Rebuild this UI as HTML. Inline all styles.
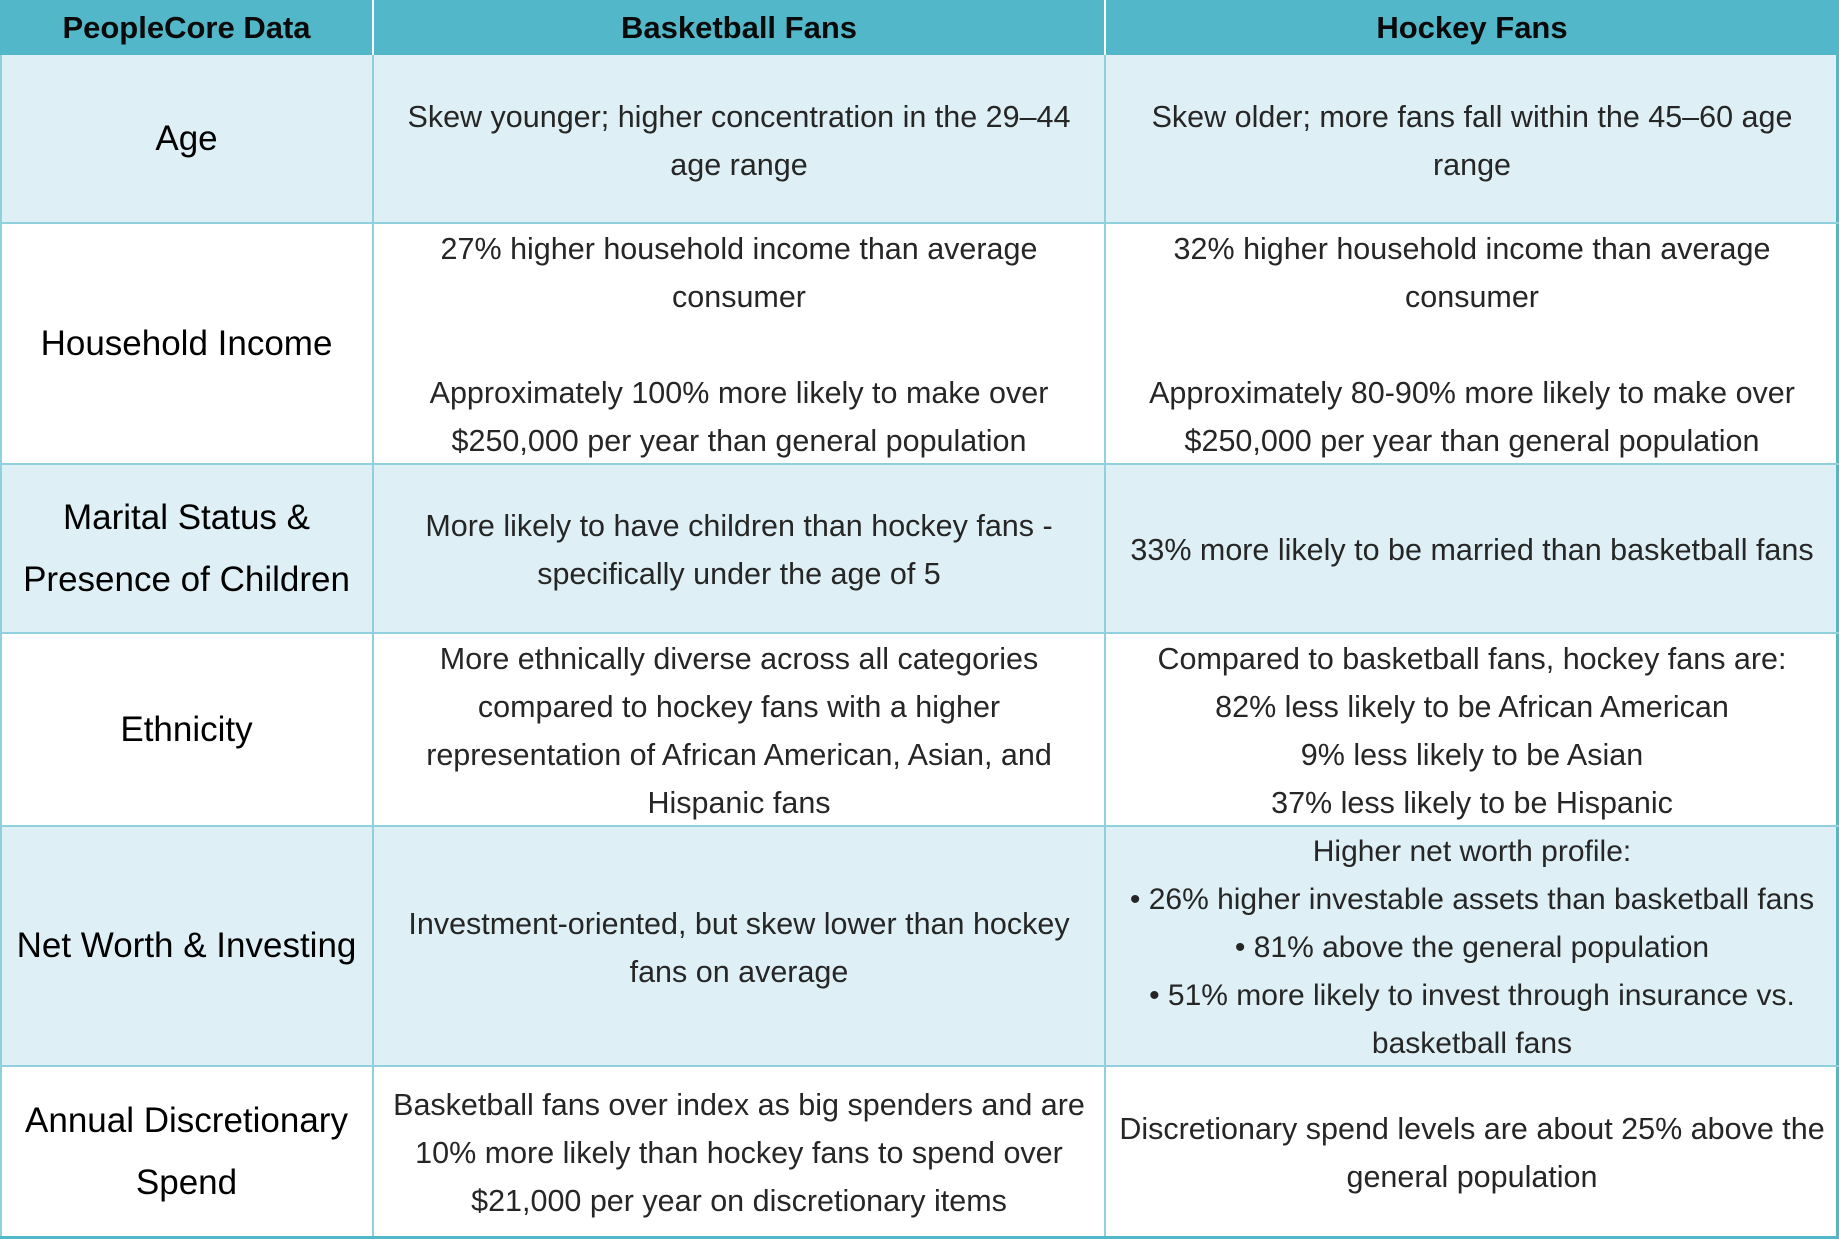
<!DOCTYPE html>
<html><head><meta charset="utf-8"><style>
html,body{margin:0;padding:0;background:#fff;}
#t{position:relative;width:1839px;height:1239px;font-family:"Liberation Sans",sans-serif;overflow:hidden;}
.c{position:absolute;box-sizing:border-box;display:flex;align-items:center;justify-content:center;text-align:center;}
.h{background:#52b8c9;color:#0a0a0a;font-weight:bold;font-size:31px;}
.rh{font-size:35px;color:#000;line-height:62px;}
.b{font-size:30.5px;color:#262626;line-height:48px;white-space:nowrap;padding-top:3px;}
.blue{background:#def0f5;}
.vl{position:absolute;background:#8fd0dc;}
.hl{position:absolute;background:#8fd0dc;height:2px;left:0;width:1839px;}
</style></head><body>
<div id="t">
<div class="c h" style="left:0;top:0;width:373px;height:55px">PeopleCore Data</div>
<div class="c h" style="left:373px;top:0;width:732px;height:55px">Basketball Fans</div>
<div class="c h" style="left:1105px;top:0;width:734px;height:55px">Hockey Fans</div>

<div class="c blue" style="left:0;top:55px;width:1839px;height:168px"></div>
<div class="c blue" style="left:0;top:464px;width:1839px;height:169px"></div>
<div class="c blue" style="left:0;top:826px;width:1839px;height:240px"></div>

<div class="c rh" style="left:0;top:55px;width:373px;height:168px">Age</div>
<div class="c b" style="left:373px;top:55px;width:732px;height:168px">Skew younger; higher concentration in the 29–44<br>age range</div>
<div class="c b" style="left:1105px;top:55px;width:734px;height:168px">Skew older; more fans fall within the 45–60 age<br>range</div>

<div class="c rh" style="left:0;top:223px;width:373px;height:241px">Household Income</div>
<div class="c b" style="left:373px;top:223px;width:732px;height:241px">27% higher household income than average<br>consumer<br><br>Approximately 100% more likely to make over<br>$250,000 per year than general population</div>
<div class="c b" style="left:1105px;top:223px;width:734px;height:241px">32% higher household income than average<br>consumer<br><br>Approximately 80-90% more likely to make over<br>$250,000 per year than general population</div>

<div class="c rh" style="left:0;top:464px;width:373px;height:169px">Marital Status &amp;<br>Presence of Children</div>
<div class="c b" style="left:373px;top:464px;width:732px;height:169px">More likely to have children than hockey fans -<br>specifically under the age of 5</div>
<div class="c b" style="left:1105px;top:464px;width:734px;height:169px">33% more likely to be married than basketball fans</div>

<div class="c rh" style="left:0;top:633px;width:373px;height:193px">Ethnicity</div>
<div class="c b" style="left:373px;top:633px;width:732px;height:193px">More ethnically diverse across all categories<br>compared to hockey fans with a higher<br>representation of African American, Asian, and<br>Hispanic fans</div>
<div class="c b" style="left:1105px;top:633px;width:734px;height:193px">Compared to basketball fans, hockey fans are:<br>82% less likely to be African American<br>9% less likely to be Asian<br>37% less likely to be Hispanic</div>

<div class="c rh" style="left:0;top:826px;width:373px;height:240px">Net Worth &amp; Investing</div>
<div class="c b" style="left:373px;top:826px;width:732px;height:240px">Investment-oriented, but skew lower than hockey<br>fans on average</div>
<div class="c b" style="left:1105px;top:826px;width:734px;height:240px;font-size:30px">Higher net worth profile:<br>• 26% higher investable assets than basketball fans<br>• 81% above the general population<br>• 51% more likely to invest through insurance vs.<br>basketball fans</div>

<div class="c rh" style="left:0;top:1066px;width:373px;height:171px">Annual Discretionary<br>Spend</div>
<div class="c b" style="left:373px;top:1066px;width:732px;height:171px">Basketball fans over index as big spenders and are<br>10% more likely than hockey fans to spend over<br>$21,000 per year on discretionary items</div>
<div class="c b" style="left:1105px;top:1066px;width:734px;height:171px">Discretionary spend levels are about 25% above the<br>general population</div>

<div class="vl" style="left:0;top:55px;width:2px;height:1184px"></div>
<div class="vl" style="left:372px;top:55px;width:2px;height:1184px"></div>
<div class="vl" style="left:372px;top:0;width:2px;height:55px;background:#fff"></div>
<div class="vl" style="left:1104px;top:55px;width:2px;height:1184px"></div>
<div class="vl" style="left:1104px;top:0;width:2px;height:55px;background:#fff"></div>
<div class="vl" style="left:1836px;top:0;width:3px;height:1239px;background:#52b8c9"></div>
<div class="hl" style="top:222px"></div>
<div class="hl" style="top:463px"></div>
<div class="hl" style="top:632px"></div>
<div class="hl" style="top:825px"></div>
<div class="hl" style="top:1065px"></div>
<div class="hl" style="top:1236px;height:3px;background:#52b8c9"></div>
</div>
</body></html>
